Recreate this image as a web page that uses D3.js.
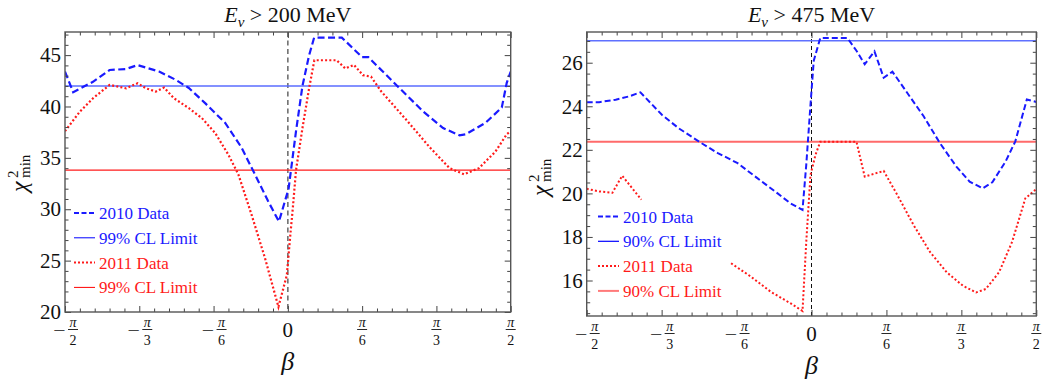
<!DOCTYPE html>
<html>
<head>
<meta charset="utf-8">
<script src="https://cdn.jsdelivr.net/npm/d3@7/dist/d3.min.js"></script>
<style>
  body { margin: 0; background: #fff; }
  svg { display: block; font-family: "Liberation Serif", "Times New Roman", serif; }
</style>
</head>
<body>
<script>
// beta in degrees (-90..90 == -pi/2..pi/2), chi2 min values

// E > 200 MeV
var beta2010_200 = [-90, -86.7, -78.7, -72, -65.3, -60.7, -52, -45.3, -40, -33.3, -25.3, -18.7, -13.3, -8, -3.6, 0.3, 3.3, 5.9, 8.5, 10.6, 21.8, 30, 32.5, 44.2, 54.7, 62.7, 69.3, 71.9, 79.8, 86.4, 88.4, 90]
var chi2010_200  = [43.4, 41.4, 42.4, 43.55, 43.65, 44.03, 43.4, 42.6, 41.8, 40.3, 38.4, 36.0, 33.4, 30.8, 28.8, 32.0, 37.6, 42.0, 44.9, 46.7, 46.7, 44.8, 44.8, 42.0, 39.5, 37.9, 37.2, 37.3, 38.4, 39.9, 42.3, 43.4]
var beta2011_200 = [-90, -84, -78.7, -72, -65.3, -60.7, -57.3, -53.3, -50, -46, -40, -34.7, -29.3, -24, -20, -14.7, -9.3, -3.8, -0.4, 1.0, 2.0, 3.3, 5.9, 8.6, 10.7, 19.7, 23.2, 26.7, 30.3, 33.6, 37.6, 48.2, 57.4, 65.3, 71.2, 77.2, 83.8, 88.4, 90]
var chi2011_200  = [37.6, 39.5, 40.8, 42.1, 41.77, 42.26, 41.77, 41.45, 41.84, 40.8, 39.84, 38.87, 37.4, 35.3, 33.4, 29.5, 25.3, 20.5, 23.6, 27.5, 30.1, 33.8, 37.9, 41.8, 44.5, 44.5, 43.7, 44.05, 43.05, 42.9, 41.5, 38.6, 36.0, 34.0, 33.4, 34.0, 35.6, 37.3, 37.6]
var limit2010_200 = 42.0
var limit2011_200 = 33.8

// E > 475 MeV
var beta2010_475 = [-90, -85, -78.4, -73.1, -68.5, -59.9, -53.3, -44.1, -37.5, -29.6, -21.7, -13.7, -8.5, -3.6, -2.1, -0.4, 0.9, 3.5, 14.4, 18.0, 21.3, 25.2, 28.9, 32.4, 38.3, 44.9, 51.4, 58.0, 63.3, 68.5, 72.4, 77.7, 81.6, 86.2, 90]
var chi2010_475  = [24.19, 24.19, 24.3, 24.45, 24.64, 23.61, 23.0, 22.31, 21.85, 21.39, 20.70, 20.01, 19.55, 19.24, 21.31, 24.08, 26.09, 27.13, 27.13, 26.55, 25.93, 26.52, 25.31, 25.59, 24.62, 23.54, 22.31, 21.23, 20.54, 20.23, 20.51, 21.46, 22.39, 24.31, 24.2]
// null marks the gap in the 2011 curve
var beta2011_475 = [-90, -85, -79.7, -75.8, -71.8, -68.1, -50, -32.2, -24.3, -16.4, -8.5, -3.6, -2.1, -0.4, 1.6, 3.5, 18.0, 21.3, 28.9, 34.4, 40.9, 47.5, 54.1, 60.6, 65.9, 69.8, 75.1, 80.3, 85.6, 90]
var chi2011_475  = [20.21, 20.09, 20.03, 20.81, 20.24, 19.71, null, 16.79, 16.18, 15.49, 14.96, 14.6, 17.77, 20.85, 21.77, 22.37, 22.37, 20.77, 21.03, 19.92, 18.54, 17.3, 16.38, 15.76, 15.45, 15.61, 16.38, 17.77, 19.77, 20.2]
var limit2010_475 = 27.01
var limit2011_475 = 22.37

// ticks
var xTickDeg = [-90, -60, -30, 0, 30, 60, 90]
var xTickDen = ["2", "3", "6", "", "6", "3", "2"]
var yTicks200 = [20, 25, 30, 35, 40, 45]
var yTicks475 = [16, 18, 20, 22, 24, 26]

var legend200 = ["2010 Data", "99% CL Limit", "2011 Data", "99% CL Limit"]
var legend475 = ["2010 Data", "90% CL Limit", "2011 Data", "90% CL Limit"]

var W = 1053, H = 386
var svg = d3.select("body").append("svg").attr("width", W).attr("height", H)

var panels = [
	{
		left: 65, right: 510.7, top: 32, bottom: 312,
		ydom: [20, 47.25], yTicks: yTicks200, yMinor: 1,
		energy: "200",
		blue: d3.zip(beta2010_200, chi2010_200), red: d3.zip(beta2011_200, chi2011_200),
		blueLim: limit2010_200, redLim: limit2011_200,
		blueLimColor: "#5a6cff", blueLimW: 1.6, redLimColor: "#ff1a1a", redLimW: 1.2,
		zeroColor: "#666", zeroW: 1.5, zeroDash: "5,3.5",
		dash: "7,3.5", lw: 2.2,
		legend: legend200, legX: 74, legY: 213,
		legLim: [["#0000ff", 1], ["#ff0000", 1]],
		ylabX: 27, ylabY: 172
	},
	{
		left: 586.7, right: 1036.3, top: 32, bottom: 316,
		ydom: [14.37, 27.41], yTicks: yTicks475, yMinor: 0.5,
		energy: "475",
		blue: d3.zip(beta2010_475, chi2010_475), red: d3.zip(beta2011_475, chi2011_475),
		blueLim: limit2010_475, redLim: limit2011_475,
		blueLimColor: "#5f70ff", blueLimW: 1.6, redLimColor: "#ff6a6a", redLimW: 2,
		zeroColor: "#111", zeroW: 1, zeroDash: "4,3",
		dash: "6,3", lw: 2,
		legend: legend475, legX: 598, legY: 216.5,
		legLim: [["#0000ff", 1.2], ["#ff7a7a", 2]],
		ylabX: 548, ylabY: 176
	}
]

panels.forEach(function(p) {
	var x = d3.scaleLinear().domain([-90, 90]).range([p.left, p.right])
	var y = d3.scaleLinear().domain(p.ydom).range([p.bottom, p.top])
	var g = svg.append("g")
	var cx = (p.left + p.right) / 2

	var clip = "clip" + p.energy
	svg.append("clipPath").attr("id", clip).append("rect")
		.attr("x", p.left).attr("y", p.top)
		.attr("width", p.right - p.left).attr("height", p.bottom - p.top)

	var plot = g.append("g").attr("clip-path", "url(#" + clip + ")")

	// zero line
	plot.append("line")
		.attr("x1", x(0)).attr("x2", x(0)).attr("y1", p.top).attr("y2", p.bottom)
		.attr("stroke", p.zeroColor).attr("stroke-width", p.zeroW)
		.attr("stroke-dasharray", p.zeroDash)

	// limits
	plot.append("line")
		.attr("x1", p.left).attr("x2", p.right)
		.attr("y1", y(p.blueLim)).attr("y2", y(p.blueLim))
		.attr("stroke", p.blueLimColor).attr("stroke-width", p.blueLimW)
	plot.append("line")
		.attr("x1", p.left).attr("x2", p.right)
		.attr("y1", y(p.redLim)).attr("y2", y(p.redLim))
		.attr("stroke", p.redLimColor).attr("stroke-width", p.redLimW)

	var line = d3.line()
		.defined(function(d) { return d[1] != null })
		.x(function(d) { return x(d[0]) })
		.y(function(d) { return y(d[1]) })

	plot.append("path").datum(p.blue).attr("d", line)
		.attr("fill", "none").attr("stroke", "#1a1aff").attr("stroke-width", p.lw)
		.attr("stroke-dasharray", p.dash)
	plot.append("path").datum(p.red).attr("d", line)
		.attr("fill", "none").attr("stroke", "#ff1a1a").attr("stroke-width", p.lw)
		.attr("stroke-dasharray", "2,2.2")

	// ticks, all four sides, pointing in
	var major = xTickDeg
	var minorX = d3.range(-90, 90.01, 6).filter(function(v) { return major.indexOf(v) < 0 })
	var minorY = d3.range(Math.ceil(p.ydom[0] / p.yMinor) * p.yMinor, p.ydom[1], p.yMinor)
		.filter(function(v) { return p.yTicks.indexOf(v) < 0 })

	function ax(a, vals, size, tr) {
		var sel = g.append("g").attr("transform", tr)
			.call(a.tickValues(vals).tickSize(size).tickSizeOuter(0).tickFormat(""))
		sel.select(".domain").remove()
		sel.selectAll("line").attr("stroke", "#444").attr("stroke-width", 1)
		return sel
	}
	ax(d3.axisBottom(x), major, -6, "translate(0," + p.bottom + ")")
	ax(d3.axisBottom(x), minorX, -3.5, "translate(0," + p.bottom + ")")
	ax(d3.axisTop(x), major, -6, "translate(0," + p.top + ")")
	ax(d3.axisTop(x), minorX, -3.5, "translate(0," + p.top + ")")
	ax(d3.axisRight(y), p.yTicks, -6, "translate(" + p.right + ",0)")
	ax(d3.axisRight(y), minorY, -3.5, "translate(" + p.right + ",0)")
	ax(d3.axisLeft(y), minorY, -3.5, "translate(" + p.left + ",0)")

	var yl = g.append("g").attr("transform", "translate(" + p.left + ",0)")
		.call(d3.axisLeft(y).tickValues(p.yTicks).tickSize(-6).tickPadding(4))
	yl.select(".domain").remove()
	yl.selectAll("line").attr("stroke", "#444")
	yl.selectAll("text").attr("font-size", 21).attr("fill", "#111")
		.attr("font-family", "Liberation Serif")

	// frame
	g.append("rect")
		.attr("x", p.left).attr("y", p.top)
		.attr("width", p.right - p.left).attr("height", p.bottom - p.top)
		.attr("fill", "none").attr("stroke", "#555").attr("stroke-width", 1.4)

	// x tick labels as fractions of pi
	xTickDeg.forEach(function(v, i) {
		var tx = x(v)
		var lab = g.append("g").attr("fill", "#111")
		if (v === 0) {
			lab.append("text").attr("x", tx).attr("y", p.bottom + 25)
				.attr("text-anchor", "middle").attr("font-size", 21).text("0")
			return
		}
		var fx = tx
		if (v < 0) {
			// wide minus: small font stretched sideways so its box stays low
			lab.append("text").attr("text-anchor", "middle").attr("font-size", 11)
				.attr("transform", "translate(" + (tx - 6) + "," + (p.bottom + 21.5) + ") scale(2,1)")
				.text("\u2212")
			fx = tx + 8
		}
		lab.append("text").attr("x", fx).attr("y", p.bottom + 15)
			.attr("text-anchor", "middle").attr("font-size", 14).attr("font-style", "italic").text("\u03c0")
		lab.append("line").attr("x1", fx - 5).attr("x2", fx + 5)
			.attr("y1", p.bottom + 17.5).attr("y2", p.bottom + 17.5)
			.attr("stroke", "#111").attr("stroke-width", 0.9)
		lab.append("text").attr("x", fx).attr("y", p.bottom + 33)
			.attr("text-anchor", "middle").attr("font-size", 14).text(xTickDen[i])
	})

	// axis titles
	g.append("text").attr("x", cx).attr("y", p.bottom + 58)
		.attr("text-anchor", "middle").attr("font-size", 26).attr("font-style", "italic")
		.attr("fill", "#111").text("\u03b2")

	var t = g.append("text").attr("x", cx).attr("y", 22)
		.attr("text-anchor", "middle").attr("font-size", 22).attr("fill", "#111")
	t.append("tspan").attr("font-style", "italic").text("E")
	t.append("tspan").attr("font-style", "italic").attr("font-size", 15).attr("dy", 5).text("\u03bd")
	t.append("tspan").attr("dy", -5).text(" > " + p.energy + " MeV")

	var yg = g.append("g").attr("transform", "translate(" + p.ylabX + "," + p.ylabY + ") rotate(-90)")
		.attr("fill", "#111")
	yg.append("text").attr("x", -20).attr("y", 0).attr("font-size", 24)
		.attr("font-style", "italic").text("\u03c7")
	yg.append("text").attr("x", -6).attr("y", -9).attr("font-size", 15).text("2")
	yg.append("text").attr("x", -6).attr("y", 3).attr("font-size", 15).text("min")

	// legend
	var legColors = ["#1a1aff", "#1a1aff", "#ff1a1a", "#ff1a1a"]
	p.legend.forEach(function(s, i) {
		var ly = p.legY + i * 24.8
		var ln = g.append("line").attr("x1", p.legX).attr("x2", p.legX + 21)
			.attr("y1", ly).attr("y2", ly)
		if (i === 0) ln.attr("stroke", "#1a1aff").attr("stroke-width", 2).attr("stroke-dasharray", "5,2.5")
		if (i === 2) ln.attr("stroke", "#ff1a1a").attr("stroke-width", 2).attr("stroke-dasharray", "2,2")
		if (i === 1) ln.attr("stroke", p.legLim[0][0]).attr("stroke-width", p.legLim[0][1])
		if (i === 3) ln.attr("stroke", p.legLim[1][0]).attr("stroke-width", p.legLim[1][1])
		g.append("text").attr("x", p.legX + 25).attr("y", ly + 6)
			.attr("font-size", 17).attr("fill", legColors[i]).text(s)
	})
})
</script>
</body>
</html>
